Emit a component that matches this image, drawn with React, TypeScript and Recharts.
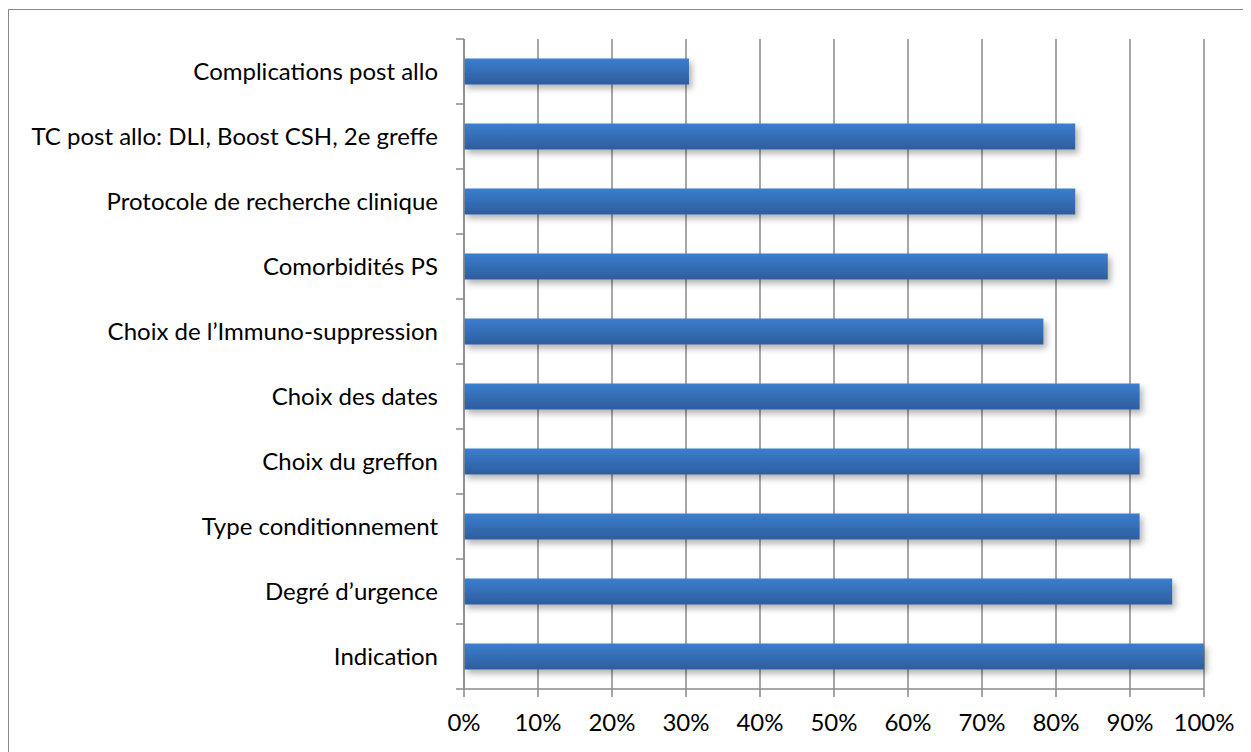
import { BarChart, Bar, XAxis, YAxis, CartesianGrid } from "recharts"

const categories = [
  "Complications post allo",
  "TC post allo: DLI, Boost CSH, 2e greffe",
  "Protocole de recherche clinique ",
  "Comorbidités PS",
  "Choix de l’Immuno-suppression",
  "Choix des dates",
  "Choix du greffon",
  "Type conditionnement",
  "Degré d’urgence ",
  "Indication",
]

const values = [30.4, 82.6, 82.6, 87.0, 78.3, 91.3, 91.3, 91.3, 95.7, 100]

const xTicks = [0, 10, 20, 30, 40, 50, 60, 70, 80, 90, 100]

const data = categories.map((name, i) => ({ name, value: values[i] }))

const FONT = "Lato, 'Open Sans', sans-serif"
const GRAY = "#8a8a8a"
const TICK_SIZE = 8
const TICK_MARGIN = 18

// Category label plus Excel-style tick marks on the band boundaries
const CategoryTick = (props: any) => {
  const { x, y, payload, index } = props
  const half = payload.offset || 0
  const lx1 = x + TICK_MARGIN
  const lx2 = lx1 + TICK_SIZE
  return (
    <g>
      {index === 0 && (
        <line x1={lx1} x2={lx2} y1={y - half} y2={y - half} stroke={GRAY} strokeWidth={1.5} />
      )}
      <line x1={lx1} x2={lx2} y1={y + half} y2={y + half} stroke={GRAY} strokeWidth={1.5} />
      <text x={x} y={y} dy="0.355em" textAnchor="end" fill="#000" fontSize={24} fontFamily={FONT}>
        {payload.value}
      </text>
    </g>
  )
}

export default function App() {
  return (
    <div
      style={{
        marginTop: 1,
        width: 1260,
        height: 760,
        border: `1px solid ${GRAY}`,
        fontFamily: FONT,
        boxSizing: "border-box",
      }}
    >
      <BarChart
        width={1243}
        height={740}
        data={data}
        layout="vertical"
        margin={{ top: 29, right: 48, bottom: 0, left: 0 }}
        barCategoryGap="30%"
      >
        <defs>
          <linearGradient id="barFill" x1="0" y1="0" x2="0" y2="1">
            <stop offset="0%" stopColor="#3c7ece" />
            <stop offset="100%" stopColor="#2d5d9d" />
          </linearGradient>
          <filter id="barShadow" x="-5%" y="-30%" width="115%" height="190%">
            <feDropShadow dx="3" dy="4" stdDeviation="3" floodColor="#000" floodOpacity="0.3" />
          </filter>
        </defs>
        <CartesianGrid horizontal={false} stroke={GRAY} strokeWidth={1.5} />
        <YAxis
          type="category"
          dataKey="name"
          width={455}
          axisLine={{ stroke: GRAY, strokeWidth: 1.5 }}
          tickLine={false}
          tickSize={TICK_SIZE}
          tickMargin={TICK_MARGIN}
          interval={0}
          tick={<CategoryTick />}
        />
        <XAxis
          type="number"
          domain={[0, 100]}
          ticks={xTicks}
          tickFormatter={(v) => `${v}%`}
          height={61}
          tickSize={8}
          tickMargin={17}
          interval={0}
          axisLine={{ stroke: GRAY, strokeWidth: 1.5 }}
          tickLine={{ stroke: GRAY, strokeWidth: 1.5 }}
          tick={{ fill: "#000", fontSize: 24, fontFamily: FONT }}
        />
        <Bar
          dataKey="value"
          fill="url(#barFill)"
          filter="url(#barShadow)"
          isAnimationActive={false}
        />
      </BarChart>
    </div>
  )
}
